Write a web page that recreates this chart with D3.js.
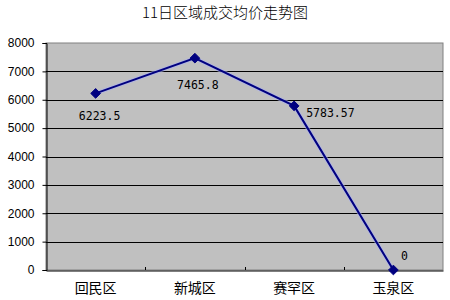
<!DOCTYPE html>
<html><head><meta charset="utf-8">
<script src="https://cdn.jsdelivr.net/npm/d3@7"></script>
<style>body{margin:0;background:#fff}svg{display:block}</style>
</head><body>
<script>
const title = "11日区域成交均价走势图";
const categories = ["回民区", "新城区", "赛罕区", "玉泉区"];
const values = [6223.5, 7465.8, 5783.57, 0];
const valueLabels = ["6223.5", "7465.8", "5783.57", "0"];
const yTicks = [0, 1000, 2000, 3000, 4000, 5000, 6000, 7000, 8000];

const W = 450, H = 300;
const m = {left: 46, top: 43, right: 7, bottom: 30};
const svg = d3.select("body").append("svg").attr("width", W).attr("height", H);

const x = d3.scaleBand().domain(categories).range([m.left, W - m.right]);
const y = d3.scaleLinear().domain([0, 8000]).range([H - m.bottom, m.top]);

svg.append("rect").attr("x", m.left).attr("y", m.top)
  .attr("width", W - m.right - m.left).attr("height", H - m.bottom - m.top)
  .attr("fill", "#c0c0c0").attr("stroke", "#808080").attr("stroke-width", 1);

// gridlines
svg.append("g").selectAll("line").data(yTicks.filter(d => d > 0 && d < 8000)).join("line")
  .attr("x1", m.left).attr("x2", W - m.right)
  .attr("y1", d => Math.round(y(d)) + 0.5).attr("y2", d => Math.round(y(d)) + 0.5)
  .attr("stroke", "#000").attr("stroke-width", 1);

// y axis
const ya = svg.append("g").attr("transform", `translate(${m.left + 0.5},0)`)
  .call(d3.axisLeft(y).tickValues(yTicks).tickSize(4).tickPadding(8).tickFormat(d3.format("d")));
ya.select(".domain").attr("stroke", "#000");
ya.selectAll(".tick line").attr("stroke", "#000");
ya.selectAll("text").attr("font-family", "Liberation Sans, Arial, sans-serif").attr("font-size", 12).attr("fill", "#000");

// x axis
const xa = svg.append("g").attr("transform", `translate(0,${H - m.bottom + 0.5})`)
  .call(d3.axisBottom(x).tickSize(0).tickPadding(13));
xa.select(".domain").attr("stroke", "#000");
xa.selectAll("text").attr("font-family", "Noto Sans CJK SC, sans-serif").attr("font-size", 14).attr("fill", "#000");
// inward category dividers
svg.append("g").selectAll("line").data(categories.slice(1)).join("line")
  .attr("x1", d => Math.round(x(d)) + 0.5).attr("x2", d => Math.round(x(d)) + 0.5)
  .attr("y1", H - m.bottom - 3).attr("y2", H - m.bottom)
  .attr("stroke", "#000");

// title
svg.append("text").attr("x", 225).attr("y", 18).attr("text-anchor", "middle")
  .attr("font-family", "Noto Sans CJK SC, sans-serif").attr("font-weight", 300)
  .attr("font-size", 15).attr("fill", "#000").text(title);

const cx = d => x(d) + x.bandwidth() / 2;
const line = d3.line().x((d, i) => cx(categories[i])).y(d => y(d));
svg.append("path").datum(values).attr("d", line).attr("fill", "none")
  .attr("stroke", "#aab0f0").attr("stroke-width", 4).attr("stroke-opacity", 0.6);
svg.append("path").datum(values).attr("d", line).attr("fill", "none")
  .attr("stroke", "#000080").attr("stroke-width", 2);

svg.append("g").selectAll("path").data(values).join("path")
  .attr("transform", (d, i) => `translate(${cx(categories[i])},${y(d)})`)
  .attr("d", d3.symbol(d3.symbolDiamond2, 60)())
  .attr("fill", "#000080").attr("stroke", "#000080").attr("stroke-width", 1);

// data labels
const offsets = [[4, 27], [3, 31], [12, 11], [11, -10]];
const anchors = ["middle", "middle", "start", "middle"];
svg.append("g").selectAll("text").data(values).join("text")
  .attr("x", (d, i) => cx(categories[i]) + offsets[i][0])
  .attr("y", (d, i) => y(d) + offsets[i][1])
  .attr("text-anchor", (d, i) => anchors[i])
  .attr("font-family", "DejaVu Sans Mono, monospace").attr("font-size", 11.5).attr("fill", "#000")
  .text((d, i) => valueLabels[i]);
</script>
</body></html>
